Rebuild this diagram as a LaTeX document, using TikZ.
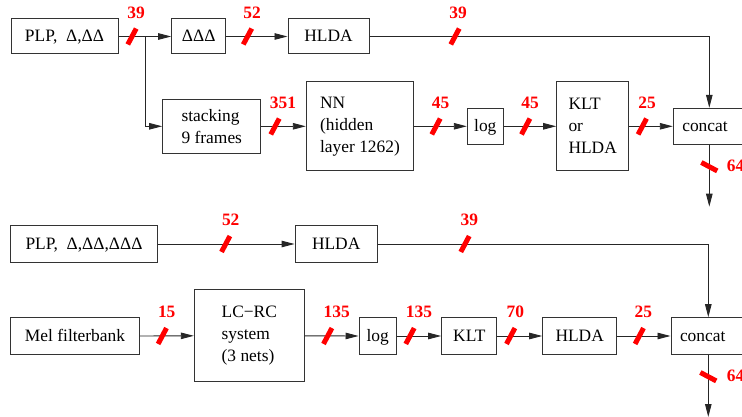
\documentclass[tikz,border=0pt]{standalone}
\usepackage{fontspec}
\setmainfont{Liberation Serif}
\usetikzlibrary{arrows.meta}
\begin{document}
\begin{tikzpicture}[x=1pt,y=-1pt,
  box/.style={draw=black!80,line width=1pt,inner sep=0pt,font=\fontsize{17.4}{22}\selectfont},
  one/.style={box,text height=1.04em,text depth=0pt},
  multi/.style={box,align=left},
  conn/.style={line width=0.9pt,draw=black!85,-{Triangle[length=13pt,width=6.5pt]}},
  plain/.style={line width=0.9pt,draw=black!85},
  slashmark/.style={fill=red,minimum width=18pt,minimum height=5pt,inner sep=0pt,sloped,rotate=62},
  num/.style={text=red,font=\fontsize{17.4}{20}\selectfont\bfseries,inner sep=0pt}
]
\useasboundingbox (0,0) rectangle (742,417);
\clip (0,0) rectangle (742,417);

% ---------- upper diagram ----------
\node[one,minimum width=107pt,minimum height=35pt] (plp1) at (64.5,36.5) {PLP,\ \ Δ,ΔΔ};
\node[one,minimum width=54pt,minimum height=35pt] (ddd) at (198.7,36.5) {ΔΔΔ};
\node[one,minimum width=81pt,minimum height=35pt] (hlda1) at (328.5,36.5) {HLDA};
\node[multi,minimum width=98.3pt,minimum height=54pt] (stack) at (211.8,126.3) {stacking\\[0.3pt]9 frames};
\node[multi,minimum width=107.4pt,minimum height=89.3pt] (nn) at (360,126.3) {NN\\(hidden\\layer 1262)};
\node[one,minimum width=36pt,minimum height=36pt] (log1) at (485.3,126.3) {log};
\node[multi,minimum width=72pt,minimum height=89.3pt] (klt1) at (592.7,126.3) {KLT\\or\\HLDA};
\node[one,minimum height=36pt,text width=54pt,inner xsep=9pt,align=left] (concat1) at (709.3,126.3) {concat};

\coordinate (br) at (145,36.5);
\coordinate (out1) at (709.3,206.7);
\draw[plain] (plp1.east) -- (br);
\draw[conn] (br) -- (ddd.west);
\draw[conn] (br) |- (stack.west);
\draw[conn] (ddd.east) -- (hlda1.west);
\draw[conn] (hlda1.east) -| (concat1.north);
\draw[conn] (stack.east) -- (nn.west);
\draw[conn] (nn.east) -- (log1.west);
\draw[conn] (log1.east) -- (klt1.west);
\draw[conn] (klt1.east) -- (concat1.west);
\draw[conn] (concat1.south) -- (out1);

% slashes upper (horizontal)
\path (120,36.5) -- (140,36.5) node[slashmark,pos=0.6] {};
\node[num] at (136,12.8) {39};
\path (240,36.5) -- (255,36.5) node[slashmark,pos=0.5] {};
\node[num] at (252,12.8) {52};
\path (450,36.5) -- (460,36.5) node[slashmark,pos=0.5] {};
\node[num] at (458,12.8) {39};
\path (270,126.5) -- (280,126.5) node[slashmark,pos=0.5] {};
\node[num] at (283,103) {351};
\path (431,126.5) -- (441,126.5) node[slashmark,pos=0.5] {};
\node[num] at (440.5,103) {45};
\path (520.7,126.5) -- (530.7,126.5) node[slashmark,pos=0.5] {};
\node[num] at (530,103) {45};
\path (637.3,126.5) -- (647.3,126.5) node[slashmark,pos=0.5] {};
\node[num] at (647,103) {25};
\path (709.3,160) -- (709.3,173.4) node[slashmark,pos=0.5] {};
\node[num,anchor=west] at (726.7,165.8) {64};

% ---------- lower diagram ----------
\node[one,minimum width=146.6pt,minimum height=36.6pt] (plp2) at (84,244) {PLP,\ \ Δ,ΔΔ,ΔΔΔ};
\node[one,minimum width=82.3pt,minimum height=36.6pt] (hlda2) at (336.2,244) {HLDA};
\node[one,minimum width=128.6pt,minimum height=36.6pt] (mel) at (75,336) {Mel filterbank};
\node[multi,minimum width=110pt,minimum height=91.7pt] (lcrc) at (249.3,335.8) {LC−RC\\system\\(3 nets)};
\node[one,minimum width=37.3pt,minimum height=36.6pt] (log2) at (377.7,336) {log};
\node[one,minimum width=55.3pt,minimum height=36.6pt] (klt2) at (469.3,336) {KLT};
\node[one,minimum width=74pt,minimum height=36.6pt] (hlda3) at (579.7,336) {HLDA};
\node[one,minimum height=36.6pt,text width=56.6pt,inner xsep=9pt,align=left] (concat2) at (708.3,336) {concat};

\coordinate (out2) at (708.3,417);
\draw[conn] (plp2.east) -- (hlda2.west);
\draw[conn] (hlda2.east) -| (concat2.north);
\draw[conn] (mel.east) -- (lcrc.west);
\draw[conn] (lcrc.east) -- (log2.west);
\draw[conn] (log2.east) -- (klt2.west);
\draw[conn] (klt2.east) -- (hlda3.west);
\draw[conn] (hlda3.east) -- (concat2.west);
\draw[conn] (concat2.south) -- (out2);

% slashes lower
\path (220.7,244) -- (230.7,244) node[slashmark,pos=0.5] {};
\node[num] at (230.7,220.3) {52};
\path (460,244) -- (470,244) node[slashmark,pos=0.5] {};
\node[num] at (469.3,220.3) {39};
\path (157.3,336) -- (167.3,336) node[slashmark,pos=0.5] {};
\node[num] at (166.7,312.2) {15};
\path (322.7,336) -- (332.7,336) node[slashmark,pos=0.5] {};
\node[num] at (336.7,312.2) {135};
\path (405,336) -- (415,336) node[slashmark,pos=0.5] {};
\node[num] at (419,312.2) {135};
\path (505.7,336) -- (515.7,336) node[slashmark,pos=0.5] {};
\node[num] at (515.3,312.2) {70};
\path (634.3,336) -- (644.3,336) node[slashmark,pos=0.5] {};
\node[num] at (643.3,312.2) {25};
\path (708.3,370) -- (708.3,383.4) node[slashmark,pos=0.5] {};
\node[num,anchor=west] at (726.7,375.8) {64};
\end{tikzpicture}
\end{document}
